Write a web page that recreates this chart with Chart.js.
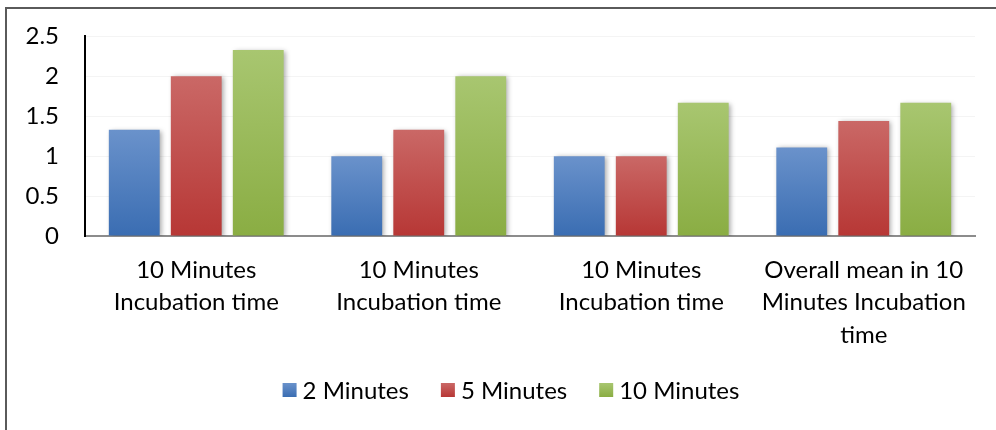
<!DOCTYPE html>
<html>
<head>
<meta charset="utf-8">
<script src="https://cdn.jsdelivr.net/npm/chart.js@4"></script>
<style>
  html, body { margin: 0; padding: 0; background: #fff; overflow: hidden; }
  #wrap { position: relative; width: 996px; height: 430px; overflow: hidden; }
  #frame { position: absolute; left: 5px; top: 7px; right: 0; bottom: 0;
           border-left: 2px solid #5a5a5a; border-top: 2px solid #5a5a5a; }
  canvas { position: absolute; left: 0; top: -4px; }
</style>
</head>
<body>
<div id="wrap">
  <div id="frame"></div>
  <canvas id="c" width="996" height="434"></canvas>
</div>
<script>
// Category labels (multi-line)
const categories = [
  ["10 Minutes", "Incubation time"],
  ["10 Minutes", "Incubation time"],
  ["10 Minutes", "Incubation time"],
  ["Overall mean in 10", "Minutes Incubation", "time"]
];
const seriesNames = ["2 Minutes", "5 Minutes", "10 Minutes"];
const twoMinutes = [1.33, 1.0, 1.0, 1.11];
const fiveMinutes = [2.0, 1.33, 1.0, 1.44];
const tenMinutes = [2.33, 2.0, 1.67, 1.67];
const yTicks = [0, 0.5, 1, 1.5, 2, 2.5];

// top / bottom colours of each series' vertical gradient
const palette = [
  ["#6a92cb", "#3a6db2"],
  ["#ca6866", "#b73735"],
  ["#a8c670", "#8aad43"]
];

const FONT = "Lato, 'Liberation Sans', sans-serif";

function gradientFill(idx) {
  return (context) => {
    const chart = context.chart;
    const area = chart.chartArea;
    if (!area) return palette[idx][1];
    const y = chart.scales.y;
    const v = context.raw == null ? 0 : context.raw;
    const top = y.getPixelForValue(v);
    const bottom = y.getPixelForValue(0);
    const g = chart.ctx.createLinearGradient(0, top, 0, bottom);
    g.addColorStop(0, palette[idx][0]);
    g.addColorStop(1, palette[idx][1]);
    return g;
  };
}

// soft drop shadow behind the bars
const barShadow = {
  id: "barShadow",
  beforeDatasetsDraw(chart) {
    const ctx = chart.ctx;
    ctx.save();
    ctx.shadowColor = "rgba(0,0,0,0.35)";
    ctx.shadowBlur = 5;
    ctx.shadowOffsetX = 2;
    ctx.shadowOffsetY = 1;
  },
  afterDatasetsDraw(chart) { chart.ctx.restore(); }
};

// legend row centred under the plot: square swatch + series name
const seriesLegend = {
  id: "seriesLegend",
  afterDraw(chart) {
    const ctx = chart.ctx;
    const size = 24, box = 14, gapText = 6, gapItem = 32, cy = 394, cx = 511;
    ctx.save();
    ctx.font = size + "px " + FONT;
    ctx.textBaseline = "middle";
    ctx.textAlign = "left";
    const widths = seriesNames.map(n => box + gapText + ctx.measureText(n).width);
    const total = widths.reduce((a, b) => a + b, 0) + gapItem * (seriesNames.length - 1);
    let x = cx - total / 2;
    seriesNames.forEach((name, i) => {
      const g = ctx.createLinearGradient(0, cy - box / 2, 0, cy + box / 2);
      g.addColorStop(0, palette[i][0]);
      g.addColorStop(1, palette[i][1]);
      ctx.fillStyle = g;
      ctx.fillRect(x, cy - box / 2, box, box);
      ctx.fillStyle = "#000";
      ctx.fillText(name, x + box + gapText, cy + 1);
      x += widths[i] + gapItem;
    });
    ctx.restore();
  }
};

const values = [twoMinutes, fiveMinutes, tenMinutes];

new Chart(document.getElementById("c"), {
  type: "bar",
  data: {
    labels: categories,
    datasets: seriesNames.map((name, i) => ({
      label: name,
      data: values[i],
      backgroundColor: gradientFill(i),
      borderWidth: 0,
      categoryPercentage: 0.836,
      barPercentage: 0.82
    }))
  },
  options: {
    responsive: false,
    animation: false,
    devicePixelRatio: 1,
    layout: { padding: { left: 0, top: 28, right: 21, bottom: 60 } },
    plugins: {
      tooltip: { enabled: false },
      legend: { display: false }
    },
    scales: {
      x: {
        grid: { display: false, drawTicks: false },
        border: { display: true, color: "#8c8c8c", width: 2 },
        ticks: {
          color: "#000",
          font: { family: FONT, size: 24, lineHeight: 1.35 },
          padding: 18,
          maxRotation: 0,
          autoSkip: false
        },
        afterFit(s) { s.height = 134; }
      },
      y: {
        min: 0,
        max: 2.5,
        afterBuildTicks(s) { s.ticks = yTicks.map(v => ({ value: v })); },
        grid: { color: "rgba(0,0,0,0.045)", drawTicks: false },
        border: { display: true, color: "#000", width: 2 },
        ticks: {
          color: "#000",
          font: { family: FONT, size: 24 },
          padding: 26,
          callback: (v) => String(v)
        },
        afterFit(s) { s.width = 85; }
      }
    }
  },
  plugins: [barShadow, seriesLegend]
});
</script>
</body>
</html>
